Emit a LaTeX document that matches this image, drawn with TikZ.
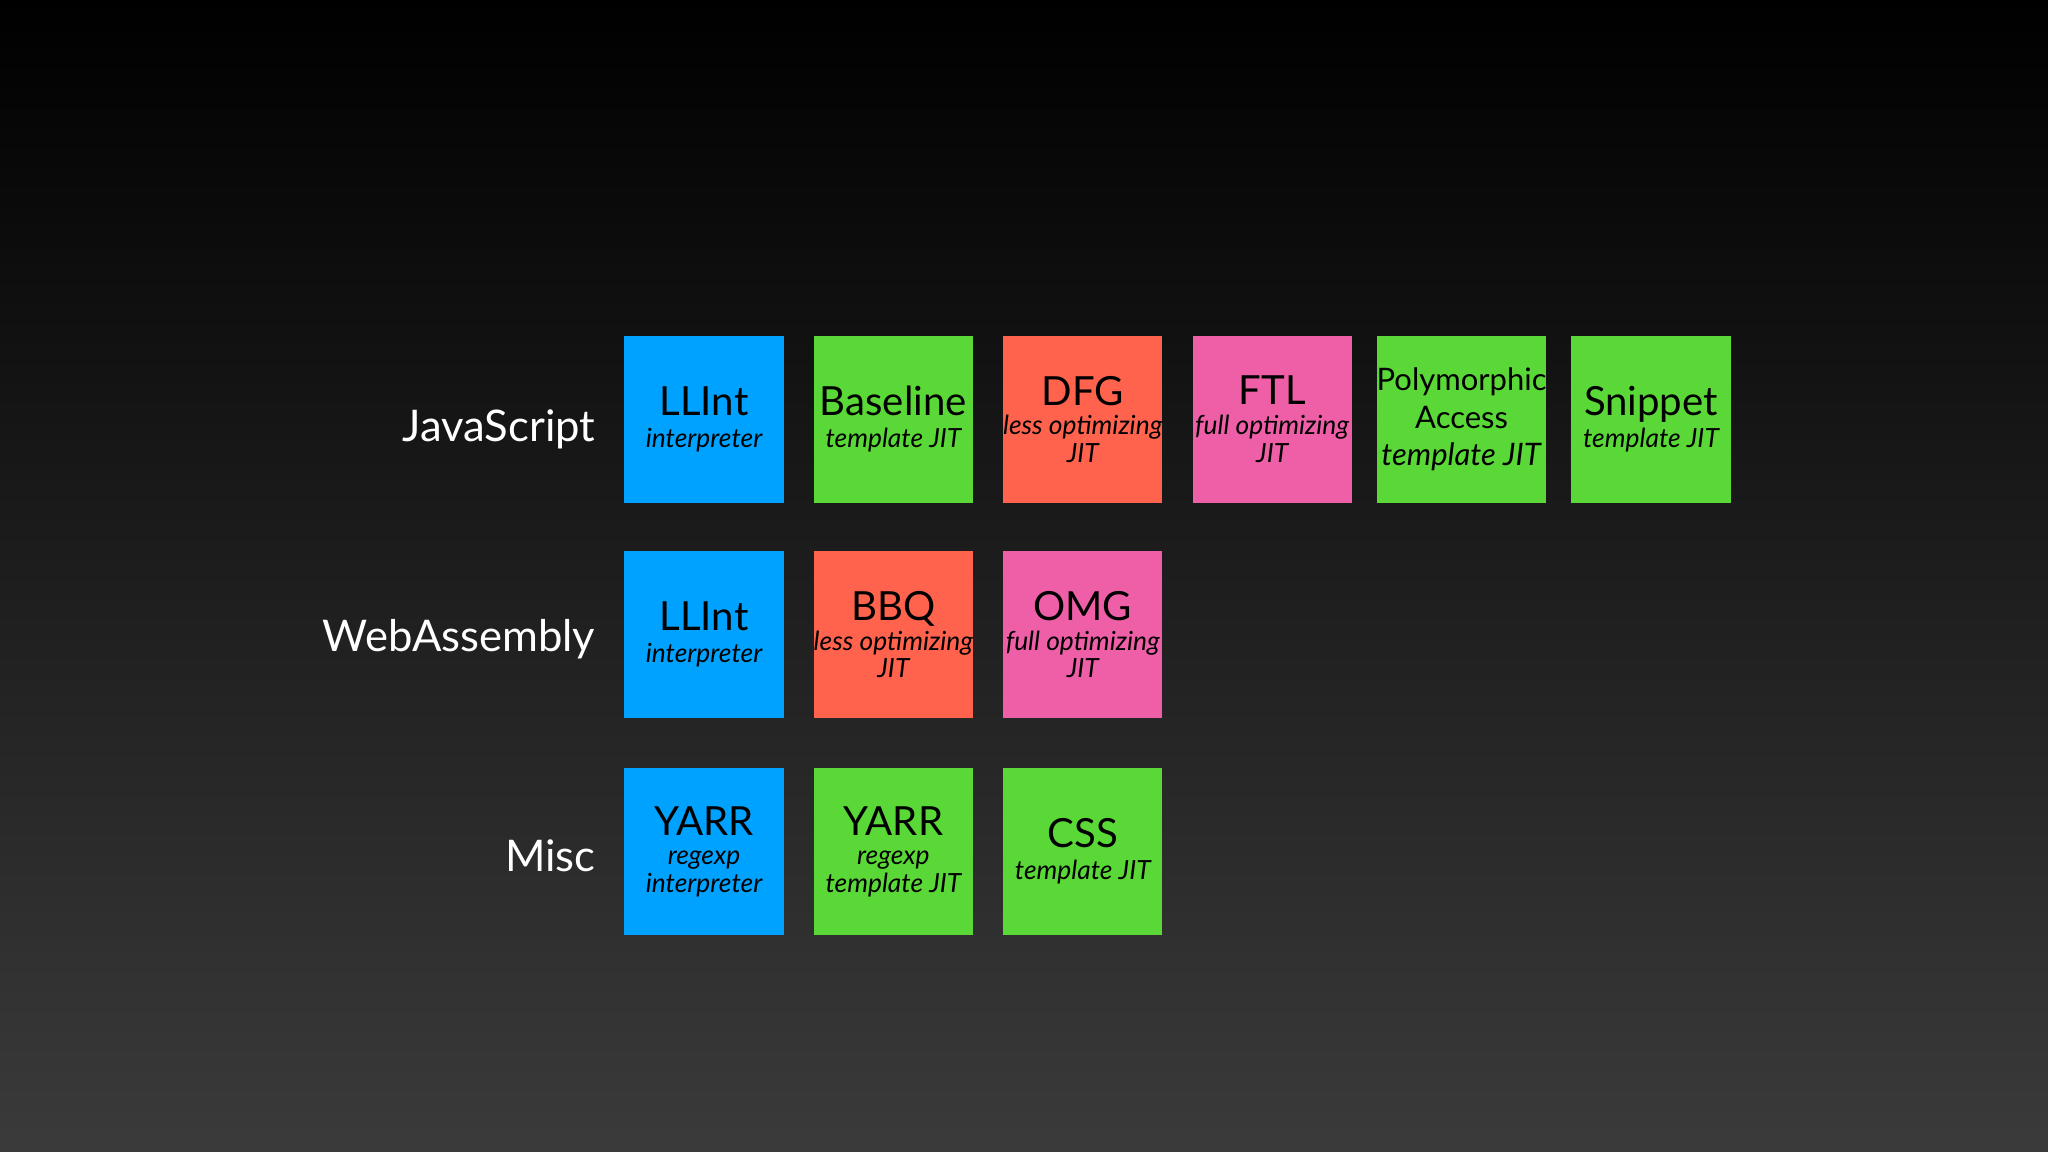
\documentclass[tikz,border=0pt]{standalone}
\usepackage{fontspec}
\setmainfont{Lato}
\definecolor{cblue}{HTML}{00A2FF}
\definecolor{cgreen}{HTML}{5AD837}
\definecolor{cred}{HTML}{FF634D}
\definecolor{cpink}{HTML}{EE5FA8}
\newcommand{\ttl}[1]{{\fontsize{17.5}{17}\selectfont #1}}
\newcommand{\subt}[1]{{\fontsize{11.5}{13.5}\selectfont\itshape #1}}
\begin{document}
\begin{tikzpicture}[x=0.02cm,y=-0.02cm,
  box/.style={minimum width=2.44cm,minimum height=2.56cm,inner sep=0pt,align=center,text=black},
  lab/.style={anchor=east,text=white,font=\fontsize{19}{22}\selectfont}]
\shade[top color=black,bottom color=black!77!white] (0,0) rectangle (1568,882);
\useasboundingbox (0,0) rectangle (1568,882);
\node[lab] (ljs) at (462,329) {JavaScript};
\node[lab] (lwa) at (462,489) {WebAssembly};
\node[lab] (lmi) at (462,655) {Misc};
\node[box,fill=cblue] (js1) at (539,321) {\ttl{LLInt}\\[2pt]\subt{interpreter}};
\node[box,fill=cgreen] (js2) at (684,321) {\ttl{Baseline}\\[2pt]\subt{template JIT}};
\node[box,fill=cred] (js3) at (829,321) {\ttl{DFG}\\[1pt]\subt{less optimizing}\\\subt{JIT}};
\node[box,fill=cpink] (js4) at (974,321) {\ttl{FTL}\\[1pt]\subt{full optimizing}\\\subt{JIT}};
\node[box,fill=cgreen,font=\fontsize{13.5}{16.5}\selectfont] (js5) at (1119,321) {Polymorphic\\Access\\\textit{template JIT}};
\node[box,fill=cgreen] (js6) at (1264,321) {\ttl{Snippet}\\[2pt]\subt{template JIT}};
\node[box,fill=cblue] (wa1) at (539,486) {\ttl{LLInt}\\[2pt]\subt{interpreter}};
\node[box,fill=cred] (wa2) at (684,486) {\ttl{BBQ}\\[1pt]\subt{less optimizing}\\\subt{JIT}};
\node[box,fill=cpink] (wa3) at (829,486) {\ttl{OMG}\\[1pt]\subt{full optimizing}\\\subt{JIT}};
\node[box,fill=cblue] (mi1) at (539,652) {\ttl{YARR}\\[1pt]\subt{regexp}\\\subt{interpreter}};
\node[box,fill=cgreen] (mi2) at (684,652) {\ttl{YARR}\\[1pt]\subt{regexp}\\\subt{template JIT}};
\node[box,fill=cgreen] (mi3) at (829,652) {\ttl{CSS}\\[2pt]\subt{template JIT}};
\end{tikzpicture}
\end{document}
